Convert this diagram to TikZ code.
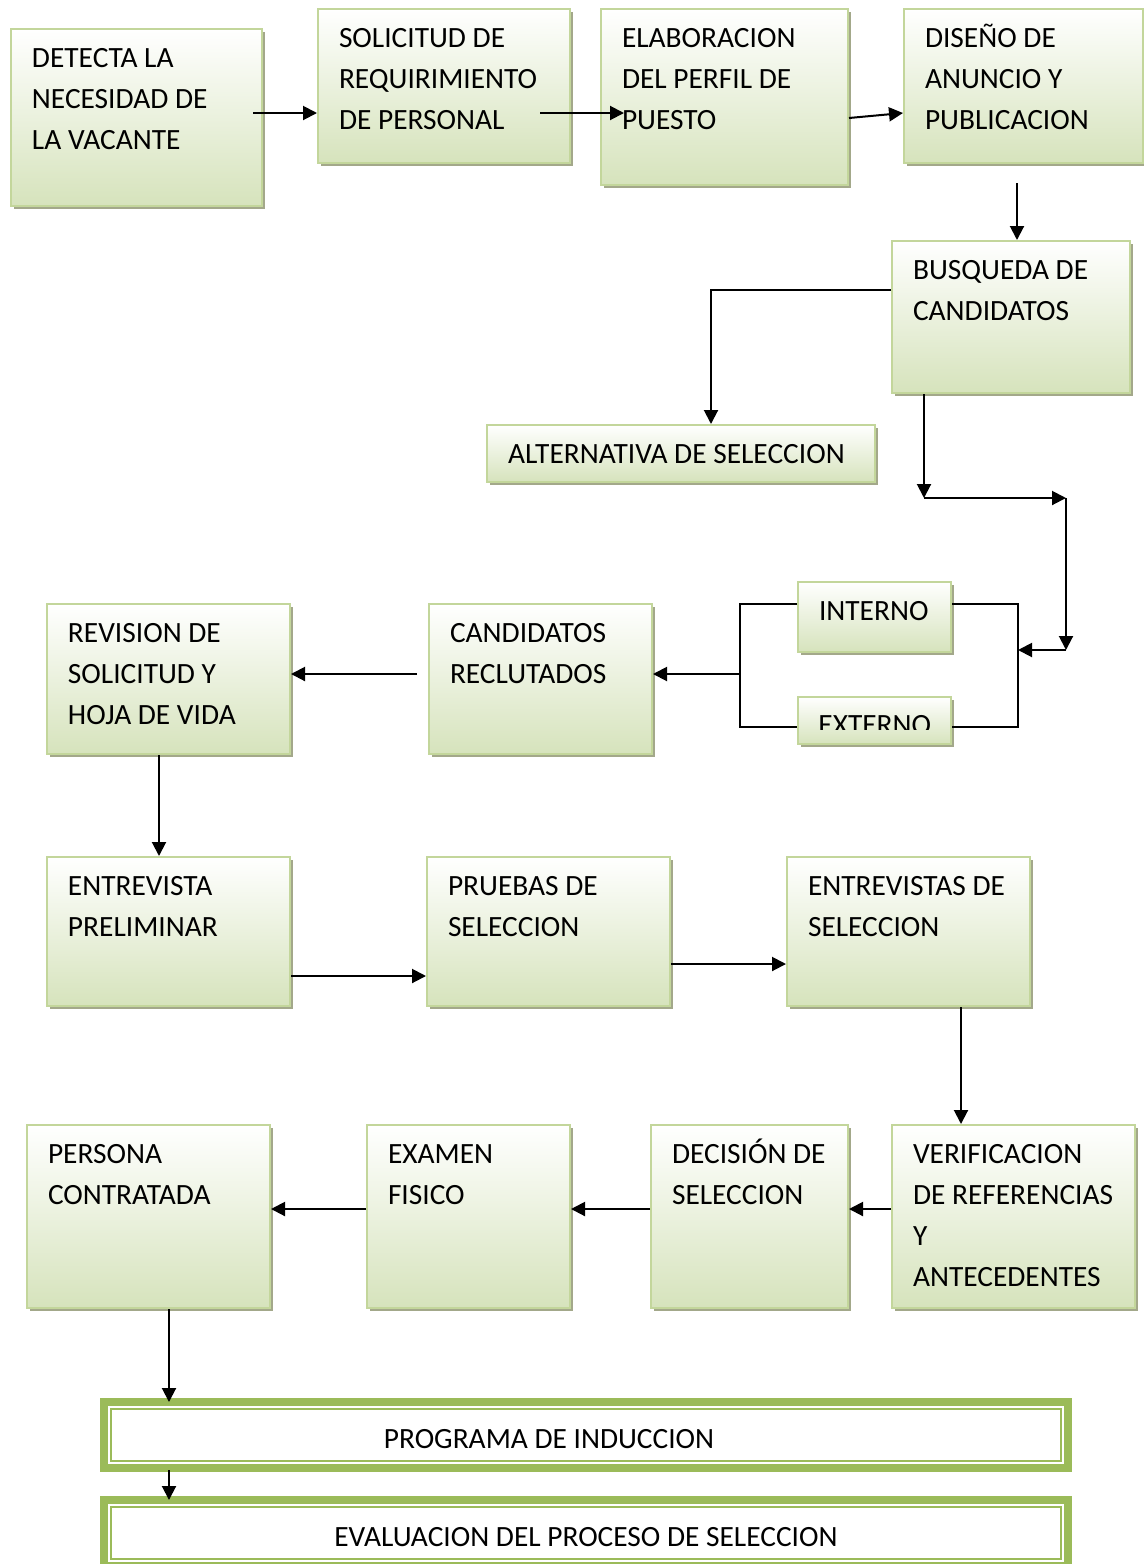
\documentclass[tikz,border=0pt]{standalone}
\usepackage{fontspec}
\setmainfont{Carlito}
\usetikzlibrary{arrows.meta, positioning, calc, shadows}
\definecolor{verdeborde}{HTML}{C3D69B}
\definecolor{verdefondo}{HTML}{D6E3BC}
\definecolor{verdemarco}{HTML}{9BBB59}
\definecolor{sombra}{HTML}{A3A88A}

\begin{document}
\begin{tikzpicture}[x=0.5pt, y=-0.5pt,
  paso/.style={draw=verdeborde, line width=1pt, top color=white, bottom color=verdefondo,
    drop shadow={shadow xshift=1.5pt, shadow yshift=-1.5pt, fill=sombra, opacity=1},
    anchor=north west, align=flush left, inner xsep=10.5pt, inner ysep=9pt, text height=10pt,
    font=\fontsize{14.7}{20.5}\selectfont},
  marco/.style={draw=verdemarco, line width=4pt, fill=white, outer sep=0pt,
    minimum width=482pt, minimum height=33pt, text height=13pt, text depth=0pt,
    font=\fontsize{14.7}{20.5}\selectfont},
  flecha/.style={-{Triangle[length=7pt,width=7pt]}, line width=1pt},
  linea/.style={line width=1pt}]
\useasboundingbox (0,0) rectangle (1144,1564);

% pasos del proceso
\node[paso, text width=104.5pt, text depth=60.5pt] (det) at (10,28) {DETECTA LA\\NECESIDAD DE\\LA VACANTE};
\node[paso, text width=105pt, text depth=49pt] (sol) at (317,8) {SOLICITUD DE\\REQUIRIMIENTO\\DE PERSONAL};
\node[paso, text width=102.5pt, text depth=60pt] (ela) at (600,8) {ELABORACION\\DEL PERFIL DE\\PUESTO};
\node[paso, text width=98.5pt, text depth=49pt] (dis) at (903,8) {DISEÑO DE\\ANUNCIO Y\\PUBLICACION};
\node[paso, text width=98pt, text depth=48pt] (bus) at (891,240) {BUSQUEDA DE\\CANDIDATOS};
\node[paso, text width=173pt, text depth=0.5pt] (alt) at (486,424) {ALTERNATIVA~DE~SELECCION};
\node[paso, text width=55.5pt, text depth=7pt] (int) at (797,581) {INTERNO};
\node[paso, text width=55.5pt, text height=0pt, text depth=0pt, inner ysep=0pt, minimum height=23.5pt] (ext) at (797,696) {};
\begin{scope}
  \clip (ext.north west) rectangle ($(ext.south east)+(0,-16)$);
  \node[font=\fontsize{14.7}{20.5}\selectfont, anchor=base west, inner sep=0pt] (ext-t) at ($(ext.north west)+(21,38)$) {EXTERNO};
\end{scope}
\node[paso, text width=90.5pt, text depth=47pt] (can) at (428,603) {CANDIDATOS\\RECLUTADOS};
\node[paso, text width=100.5pt, text depth=47pt] (rev) at (46,603) {REVISION DE\\SOLICITUD Y\\HOJA DE VIDA};
\node[paso, text width=100.5pt, text depth=46.5pt] (pre) at (46,856) {ENTREVISTA\\PRELIMINAR};
\node[paso, text width=100.5pt, text depth=46.5pt] (pru) at (426,856) {PRUEBAS DE\\SELECCION};
\node[paso, text width=100.5pt, text depth=46.5pt] (ent) at (786,856) {ENTREVISTAS~DE\\SELECCION};
\node[paso, text width=100.5pt, text depth=63.5pt] (ver) at (891,1124) {VERIFICACION\\DE~REFERENCIAS\\Y\\ANTECEDENTES};
\node[paso, text width=77.5pt, text depth=63.5pt] (dec) at (650,1124) {DECISIÓN~DE\\SELECCION};
\node[paso, text width=80.5pt, text depth=63.5pt] (exa) at (366,1124) {EXAMEN\\FISICO};
\node[paso, text width=100.5pt, text depth=63.5pt] (per) at (26,1124) {PERSONA\\CONTRATADA};

% marcos finales
\node[marco] (pro) at (586,1435) {PROGRAMA DE INDUCCION\hspace*{37pt}};
\draw[verdemarco, line width=1pt] ($(pro.north west)+(7,7)$) rectangle ($(pro.south east)+(-7,-7)$);
\node[marco] (eva) at (586,1533) {EVALUACION DEL PROCESO DE SELECCION};
\draw[verdemarco, line width=1pt] ($(eva.north west)+(7,7)$) rectangle ($(eva.south east)+(-7,-7)$);

% conectores
\coordinate (a1) at ($(det.east)+(-10,-4.5)$);
\draw[flecha] (a1) -- (a1 -| sol.west);
\coordinate (a2) at ($(sol.east)+(-31,27)$);
\draw[flecha] (a2) -- ($(a2 -| ela.west)+(24,0)$);
\draw[flecha] ($(ela.east)+(0,21)$) -- ($(dis.west)+(0,27)$);
\coordinate (a4) at ($(dis.south)+(-6.5,19)$);
\draw[flecha] (a4) -- (a4 |- bus.north);
\draw[flecha] ($(bus.west)+(0,-27)$) -| ($(alt.north)+(30,0)$);

\coordinate (b1) at ($(bus.south west)+(33,104)$);
\coordinate (b2) at ($(b1)+(142,0)$);
\coordinate (b3) at ($(b2)+(0,152)$);
\coordinate (c1) at ($(int.east)+(66,-13)$);
\coordinate (c2) at ($(ext.east)+(66,6.5)$);
\draw[flecha] (b1 |- bus.south) -- (b1);
\draw[flecha] (b1) -- (b2);
\draw[flecha] (b2) -- (b3);
\draw[flecha] (b3) -- (b3 -| c1);
\draw[linea] ($(int.east)+(0,-13)$) -- (c1) -- (c2) -- ($(ext.east)+(0,6.5)$);

\coordinate (d1) at ($(int.west)+(-57,-13)$);
\coordinate (d2) at ($(ext.west)+(-57,6.5)$);
\draw[linea] ($(int.west)+(0,-13)$) -- (d1) -- (d2) -- ($(ext.west)+(0,6.5)$);
\draw[flecha] ($(d1 |- can.east)+(0,-5)$) -- ($(can.east)+(0,-5)$);

\coordinate (e1) at ($(can.west)+(-11,-5)$);
\draw[flecha] (e1) -- (e1 -| rev.east);
\coordinate (e2) at ($(rev.south)+(-9.5,0)$);
\draw[flecha] (e2) -- (e2 |- pre.north);
\coordinate (e3) at ($(pre.east)+(0,44.5)$);
\draw[flecha] (e3) -- (e3 -| pru.west);
\coordinate (e4) at ($(pru.east)+(0,32.5)$);
\draw[flecha] (e4) -- (e4 -| ent.west);
\coordinate (e5) at ($(ent.south)+(52.5,0)$);
\draw[flecha] (e5) -- (e5 |- ver.north);
\coordinate (e6) at ($(ver.west)+(0,-7.5)$);
\draw[flecha] (e6) -- (e6 -| dec.east);
\draw[flecha] ($(dec.west)+(0,-7.5)$) -- ($(exa.east)+(0,-7.5)$);
\draw[flecha] ($(exa.west)+(0,-7.5)$) -- ($(per.east)+(0,-7.5)$);
\coordinate (e7) at ($(per.south)+(20.5,0)$);
\draw[flecha] (e7) -- (e7 |- pro.north);
\draw[flecha] ($(e7 |- pro.south)+(0,2)$) -- (e7 |- eva.north);
\end{tikzpicture}
\end{document}
